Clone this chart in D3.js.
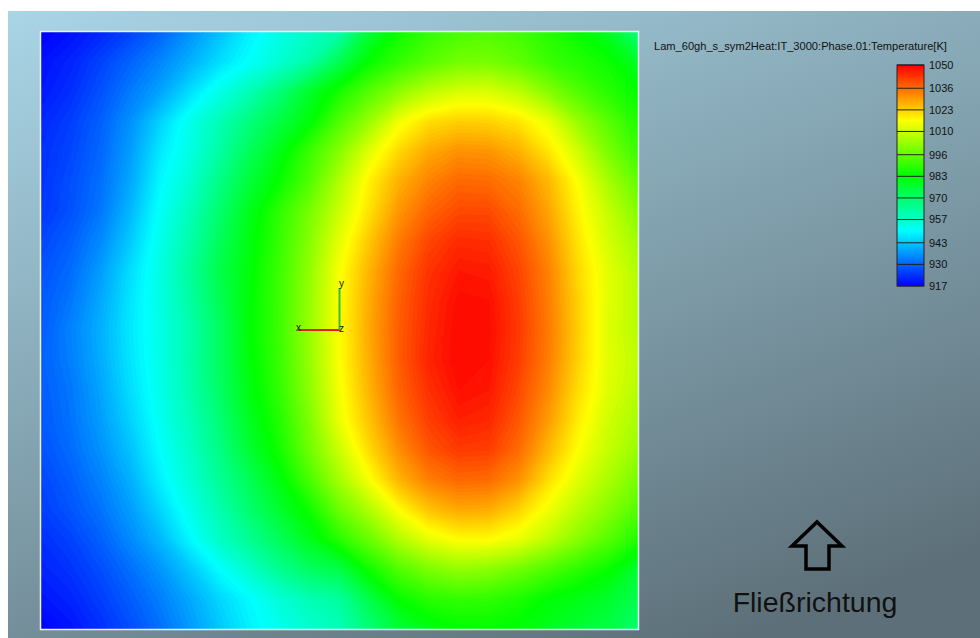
<!DOCTYPE html>
<html>
<head>
<meta charset="utf-8">
<script src="https://cdn.jsdelivr.net/npm/d3@7"></script>
<style>
  html, body { margin: 0; padding: 0; background: #ffffff; }
  svg { display: block; font-family: "Liberation Sans", Arial, sans-serif; }
</style>
</head>
<body>
<svg id="chart" width="980" height="638"></svg>
<script>
// Temperature field [K], one row per mesh line from top to bottom,
// 21 samples per row from left to right across the section.
const row00 = [917, 919, 922, 925.5, 930, 936, 942, 948.5, 953.5, 957.5, 961, 976, 985, 990, 993, 994, 992, 988, 984, 979, 967];
const row01 = [919, 921.5, 925.5, 930, 934.5, 940, 946, 951, 956, 962, 973, 984, 990, 995, 998.5, 999, 996, 991, 988, 985, 978];
const row02 = [920, 923, 927.5, 933, 938.5, 946, 953.5, 960, 968, 978, 986.5, 994.5, 1002, 1008, 1011.5, 1012, 1008, 1001, 994, 988.5, 984];
const row03 = [922, 925, 929.5, 936, 944.5, 953, 960, 967.5, 975, 982.5, 994, 1003.5, 1015, 1021, 1023, 1022.5, 1020, 1014, 1003, 995, 987.5];
const row04 = [923, 926, 930.5, 937.5, 947.5, 954, 962.5, 972, 981, 991, 1001, 1013, 1022, 1028, 1031, 1030.5, 1027, 1020, 1010.5, 999.5, 991];
const row05 = [923.5, 927, 931.5, 939, 949.5, 956.5, 966.5, 976, 984.5, 994, 1006.5, 1018.5, 1027, 1033, 1036.5, 1036, 1033, 1026, 1016, 1005, 996];
const row06 = [924, 927.5, 932.5, 941, 951.5, 959.5, 969.5, 980, 989.5, 999, 1010, 1020.5, 1030.5, 1037, 1040.5, 1040.5, 1036, 1028.5, 1018, 1009, 1000.5];
const row07 = [926, 929.5, 935, 943.5, 953, 961.5, 972, 981.5, 990.5, 1001, 1013.5, 1024, 1034, 1041, 1044.5, 1044, 1039, 1031, 1020, 1011, 1004];
const row08 = [927.5, 931, 937.5, 946, 954, 963.5, 974, 982.5, 991.5, 1002.5, 1016, 1026.5, 1036.5, 1043.5, 1047, 1046.5, 1041, 1033, 1021.5, 1013, 1006.5];
const row09 = [928.5, 932.5, 939, 947, 954, 962.5, 972.5, 983, 991.5, 1003, 1016.5, 1027.5, 1037.5, 1044.5, 1048.5, 1048, 1042, 1033.5, 1022.5, 1013, 1007];
const row10 = [929, 934, 940, 947.5, 953.5, 961, 971, 983, 991.5, 1003.5, 1016.5, 1028, 1038, 1045, 1049, 1048.5, 1042.5, 1034, 1023, 1012.5, 1007];
const row11 = [929.5, 933.5, 939.5, 947, 953.5, 961.5, 971, 982.5, 991, 1003, 1016.5, 1027.5, 1038, 1045.5, 1049, 1048, 1042, 1033.5, 1022.5, 1013, 1008];
const row12 = [929, 932.5, 938.5, 946, 953, 961, 970.5, 981.5, 990, 1002, 1015.5, 1026.5, 1037, 1044, 1048, 1047, 1040.5, 1032, 1021, 1012.5, 1007];
const row13 = [928.5, 932, 937.5, 944.5, 952, 959.5, 968.5, 979.5, 988, 1000, 1014.5, 1024.5, 1035, 1042, 1046, 1045, 1038.5, 1029.5, 1019, 1010.5, 1005.5];
const row14 = [927.5, 931, 936, 942.5, 950.5, 958, 966.5, 977, 986, 998, 1010, 1021.5, 1031.5, 1039, 1042.5, 1042, 1036, 1026, 1016.5, 1009, 1003];
const row15 = [926, 929.5, 934, 940, 948.5, 956, 964, 972.5, 982, 993, 1005, 1016, 1026.5, 1033.5, 1036.5, 1036, 1031, 1021, 1012.5, 1005.5, 999];
const row16 = [925, 928, 932, 937.5, 945, 953, 961, 969.5, 977.5, 985.5, 997.5, 1006.5, 1017, 1024.5, 1028, 1027.5, 1022.5, 1015, 1007.5, 1001, 994];
const row17 = [923, 925.5, 929.5, 935, 941, 949.5, 958, 964.5, 972, 980, 988.5, 997, 1006.5, 1013.5, 1017, 1017, 1014, 1008, 1001, 994.5, 987.5];
const row18 = [921.5, 923.5, 927, 931.5, 936.5, 943, 950.5, 957.5, 965, 971, 974, 985.5, 994, 999.5, 1002.5, 1001.5, 998, 993.5, 989, 984.5, 977];
const row19 = [919.5, 921.5, 925, 929, 933.5, 939, 945, 950, 955.5, 960, 963, 974, 984, 988.5, 990, 989.5, 987, 983, 980.5, 978, 973];
const row20 = [917, 919.5, 923, 927, 931.5, 937, 943, 948.5, 952.5, 956, 959.5, 968, 976, 981, 983, 983.5, 982.5, 980, 977, 974.5, 969];

const fieldRows = [row00, row01, row02, row03, row04, row05, row06, row07, row08, row09, row10,
                   row11, row12, row13, row14, row15, row16, row17, row18, row19, row20];

// Legend range and labels
const tempRange = [917, 1050];
const legendTicks = [917, 930, 943, 957, 970, 983, 996, 1010, 1023, 1036, 1050];
const fieldTitle = "Lam_60gh_s_sym2Heat:IT_3000:Phase.01:Temperature[K]";
const flowLabel = "Fließrichtung";
const triadLabels = ["x", "y", "z"];

// ---------------------------------------------------------------
const svg = d3.select("#chart");
const defs = svg.append("defs");

// Rainbow colour map blue -> cyan -> green -> yellow -> red
const color = d3.scaleLinear()
  .domain(d3.range(5).map(i => tempRange[0] + i * (tempRange[1] - tempRange[0]) / 4))
  .range(["#0000ff", "#00ffff", "#00ff00", "#ffff00", "#ff0000"])
  .clamp(true);

// Viewport background
const bg = defs.append("linearGradient")
  .attr("id", "bgGrad").attr("gradientUnits", "userSpaceOnUse")
  .attr("x1", 8).attr("y1", 11).attr("x2", 299).attr("y2", 800);
bg.append("stop").attr("offset", 0).attr("stop-color", "#a9d5e6");
bg.append("stop").attr("offset", 1).attr("stop-color", "#5d7079");
svg.append("rect").attr("x", 8).attr("y", 11).attr("width", 972).attr("height", 627)
  .attr("fill", "url(#bgGrad)");

// Plot area
const plot = { x0: 41, y0: 32, x1: 638, y1: 629 };
const nx = fieldRows[0].length, ny = fieldRows.length;
const xg = d3.scaleLinear().domain([0.5, nx - 0.5]).range([plot.x0, plot.x1]);
const yg = d3.scaleLinear().domain([0.5, ny - 0.5]).range([plot.y0, plot.y1]);

defs.append("clipPath").attr("id", "plotClip")
  .append("rect").attr("x", plot.x0).attr("y", plot.y0)
  .attr("width", plot.x1 - plot.x0).attr("height", plot.y1 - plot.y0);

const values = fieldRows.flat();
const levels = d3.range(tempRange[0], tempRange[1], 1);
const contours = d3.contours().size([nx, ny]).thresholds(levels)(values);
const projection = d3.geoTransform({
  point(x, y) { this.stream.point(xg(x), yg(y)); }
});
const path = d3.geoPath(projection);

const field = svg.append("g").attr("clip-path", "url(#plotClip)");
field.append("rect").attr("x", plot.x0).attr("y", plot.y0)
  .attr("width", plot.x1 - plot.x0).attr("height", plot.y1 - plot.y0)
  .attr("fill", color(tempRange[0]));
field.selectAll("path.band").data(contours).join("path")
  .attr("class", "band")
  .attr("d", path)
  .attr("fill", d => color(d.value + 0.5))
  .attr("stroke", d => color(d.value + 0.5))
  .attr("stroke-width", 0.4);

// Plot frame
svg.append("rect").attr("x", plot.x0 - 0.5).attr("y", plot.y0 - 0.5)
  .attr("width", plot.x1 - plot.x0 + 1).attr("height", plot.y1 - plot.y0 + 1)
  .attr("fill", "none").attr("stroke", "#e9f1f4").attr("stroke-width", 1.5);

// Coordinate triad
const triad = svg.append("g");
triad.append("line").attr("x1", 298).attr("y1", 330).attr("x2", 340).attr("y2", 330)
  .attr("stroke", "#e0201c").attr("stroke-width", 2);
triad.append("line").attr("x1", 339.5).attr("y1", 288).attr("x2", 339.5).attr("y2", 330)
  .attr("stroke", "#33c033").attr("stroke-width", 2);
triad.selectAll("text").data([
  { t: triadLabels[0], x: 296, y: 331 },
  { t: triadLabels[1], x: 339, y: 287 },
  { t: triadLabels[2], x: 339, y: 332 }
]).join("text")
  .attr("x", d => d.x).attr("y", d => d.y)
  .attr("font-size", 10).attr("fill", "#151515")
  .text(d => d.t);

// Title
svg.append("text").attr("x", 654).attr("y", 50)
  .attr("font-size", 11.1).attr("fill", "#111")
  .text(fieldTitle);

// Colour legend
const leg = { x: 897, w: 27, top: 65, bottom: 286 };
const ly = d3.scaleLinear().domain(tempRange).range([leg.bottom, leg.top]);
const lg = defs.append("linearGradient").attr("id", "legGrad")
  .attr("x1", 0).attr("y1", 1).attr("x2", 0).attr("y2", 0);
d3.range(0, 1.0001, 0.05).forEach(f => {
  lg.append("stop").attr("offset", f)
    .attr("stop-color", color(tempRange[0] + f * (tempRange[1] - tempRange[0])));
});
svg.append("rect").attr("x", leg.x).attr("y", leg.top)
  .attr("width", leg.w).attr("height", leg.bottom - leg.top)
  .attr("fill", "url(#legGrad)");
const legTicks = svg.append("g");
legTicks.selectAll("line").data(legendTicks).join("line")
  .attr("x1", leg.x).attr("x2", leg.x + leg.w)
  .attr("y1", d => ly(d)).attr("y2", d => ly(d))
  .attr("stroke", "#222").attr("stroke-width", 1);
svg.append("rect").attr("x", leg.x).attr("y", leg.top)
  .attr("width", leg.w).attr("height", leg.bottom - leg.top)
  .attr("fill", "none").attr("stroke", "#222").attr("stroke-width", 1);
legTicks.selectAll("text").data(legendTicks).join("text")
  .attr("x", leg.x + leg.w + 5).attr("y", d => ly(d))
  .attr("dy", "0.35em").attr("font-size", 11).attr("fill", "#111")
  .text(d => d);

// Flow direction arrow and label
const arrowPts = [[817, 522], [842, 546], [829, 546], [829, 569], [806, 569], [806, 546], [792, 546]];
svg.append("path")
  .attr("d", d3.line()(arrowPts) + "Z")
  .attr("fill", "none").attr("stroke", "#000").attr("stroke-width", 3.5)
  .attr("stroke-linejoin", "miter");
svg.append("text").attr("x", 815).attr("y", 612)
  .attr("text-anchor", "middle").attr("font-size", 28.5).attr("fill", "#111")
  .text(flowLabel);
</script>
</body>
</html>
